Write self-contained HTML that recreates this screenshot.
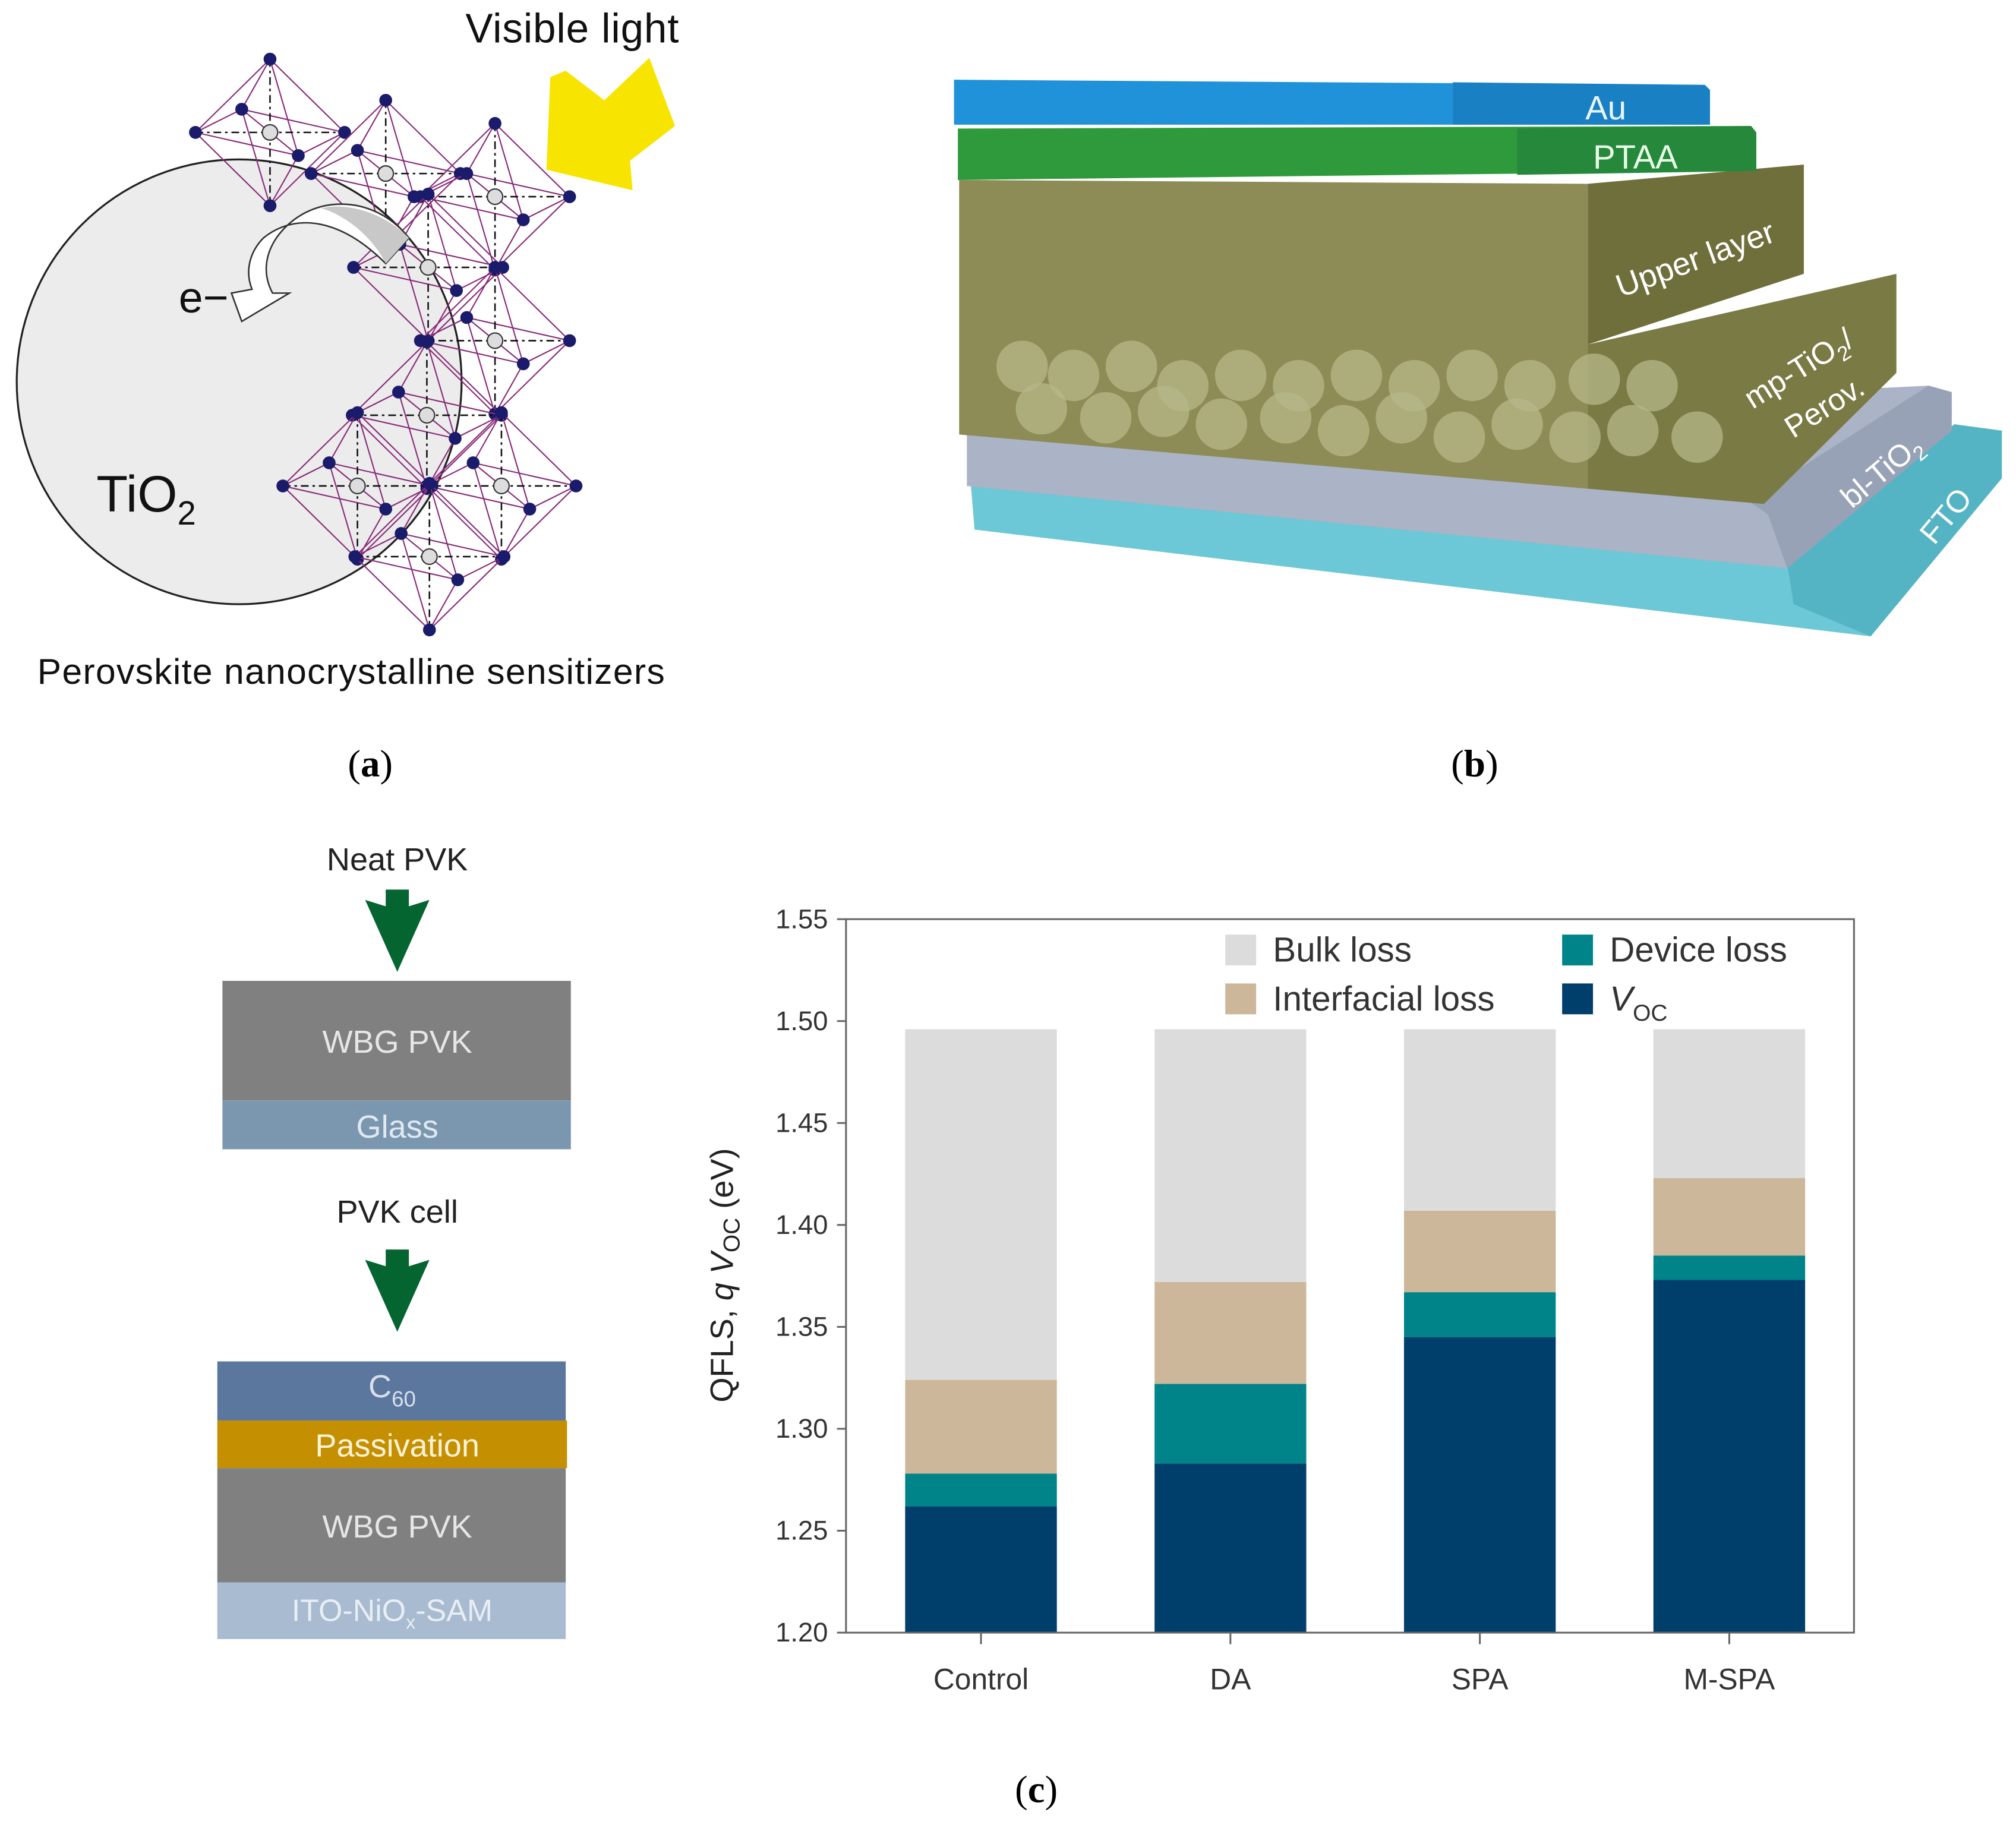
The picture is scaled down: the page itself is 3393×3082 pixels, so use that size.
<!DOCTYPE html>
<html><head><meta charset="utf-8"><style>
html,body{margin:0;padding:0;background:#fff;}
svg{display:block;}
text{font-family:"Liberation Sans",sans-serif;}
</style></head><body>
<svg id="fig" width="3393" height="3082" viewBox="0 0 1568 1424.3" xmlns="http://www.w3.org/2000/svg">
<!-- Panel a -->
<g>
  <circle cx="186" cy="297" r="173" fill="#ececec" stroke="#222" stroke-width="1.5"/>
  <g id="lattice"></g>
  <path d="M318,185 C290,150 240,150 215,185 C205,200 205,215 212,228 L225,228 L188,250 L180,228 L196,225 C190,210 195,195 205,185 C230,165 265,170 300,205 Z" fill="#fff" stroke="#333" stroke-width="1.2"/>
  <path d="M318,185 C295,162 265,158 250,162 C270,168 290,185 300,205 Z" fill="#c8c8c8"/>
  <text x="139" y="243" font-size="34" fill="#111">e−</text>
  <text x="75" y="398" font-size="40" fill="#111">TiO<tspan font-size="26" dy="10">2</tspan></text>
  <polygon points="440,55 470,78 505,45 525,98 490,125 492,148 425,132 428,60" fill="#f7e400"/>
  <text x="362" y="33" font-size="32" textLength="166" fill="#111">Visible light</text>
  <text x="29" y="532" font-size="28" textLength="488" fill="#111">Perovskite nanocrystalline sensitizers</text>
  <text x="288" y="604" font-size="30" text-anchor="middle" style="font-family:'Liberation Serif',serif">(<tspan font-weight="bold">a</tspan>)</text>
</g>
<!-- Panel b -->
<g>
  <polygon points="755,376 1390,438 1520,330 1557,335 1557,372 1455,495 758,412" fill="#6cc8d6"/>
  <polygon points="1390,438 1520,330 1557,335 1557,372 1455,495 1395,470" fill="#55b4c4"/>
  <polygon points="752,336 1500,300 1518,305 1518,335 1390,442 752,378" fill="#aab4c6"/>
  <polygon points="1360,390 1500,300 1518,305 1518,335 1390,442 1375,400" fill="#97a2b6"/>
  <polygon points="746,140 1235,143 1235,268 1372,268 1372,392 746,338" fill="#8e8c56"/>
  <polygon points="1235,143 1403,128 1403,213 1235,268" fill="#6f6f3c"/>
  <polygon points="1235,268 1475,213 1475,290 1372,392 1235,380" fill="#7a7a44"/>
  <g id="spheres"></g>
  <polygon points="745,100 1362,98 1366,103 1366,133 745,140" fill="#2f9a3c"/>
  <polygon points="1180,100 1362,98 1366,103 1366,133 1180,136" fill="#26883a"/>
  <polygon points="742,62 1326,66 1330,70 1330,97 742,97" fill="#1f92da"/>
  <polygon points="1130,64 1326,66 1330,70 1330,97 1130,97" fill="#1a80c4"/>
  <text x="1249" y="93" font-size="26" fill="#eaf6ff" text-anchor="middle">Au</text>
  <text x="1272" y="131" font-size="26" fill="#eaffea" text-anchor="middle">PTAA</text>
  <text x="1318" y="210" font-size="25" fill="#fff" text-anchor="middle" transform="rotate(-20 1318 200)">Upper layer</text>
  <text x="1398" y="295" font-size="24" fill="#fff" text-anchor="middle" transform="rotate(-32 1398 285)">mp-TiO<tspan font-size="16" dy="6">2</tspan><tspan dy="-6">/</tspan></text>
  <text x="1418" y="325" font-size="24" fill="#fff" text-anchor="middle" transform="rotate(-32 1418 315)">Perov.</text>
  <text x="1462" y="375" font-size="24" fill="#fff" text-anchor="middle" transform="rotate(-40 1462 365)">bl-TiO<tspan font-size="16" dy="6">2</tspan></text>
  <text x="1512" y="410" font-size="24" fill="#fff" text-anchor="middle" transform="rotate(-50 1512 400)">FTO</text>
  <text x="1147" y="604" font-size="30" text-anchor="middle" style="font-family:'Liberation Serif',serif">(<tspan font-weight="bold">b</tspan>)</text>
</g>
<!-- Panel c left -->
<g>
  <text x="309" y="677" font-size="25" text-anchor="middle" fill="#222">Neat PVK</text>
  <polygon points="300,692 318,692 318,705 334,700 309,756 284,700 300,705" fill="#056530"/>
  <rect x="173" y="763" width="271" height="93" fill="#808080"/>
  <rect x="173" y="856" width="271" height="38" fill="#7b97b0"/>
  <text x="309" y="819" font-size="25" text-anchor="middle" fill="#e6e6e6">WBG PVK</text>
  <text x="309" y="885" font-size="25" text-anchor="middle" fill="#e0e8f0">Glass</text>
  <text x="309" y="951" font-size="25" text-anchor="middle" fill="#222">PVK cell</text>
  <polygon points="300,972 318,972 318,985 334,980 309,1036 284,980 300,985" fill="#056530"/>
  <rect x="169" y="1059" width="271" height="46" fill="#5b779e"/>
  <rect x="169" y="1105" width="272" height="37" fill="#c48f00"/>
  <rect x="169" y="1142" width="271" height="89" fill="#808080"/>
  <rect x="169" y="1231" width="271" height="44" fill="#a9bbd0"/>
  <text x="305" y="1087" font-size="25" text-anchor="middle" fill="#d8dfea">C<tspan font-size="17" dy="7">60</tspan></text>
  <text x="309" y="1133" font-size="25" text-anchor="middle" fill="#fff3d8">Passivation</text>
  <text x="309" y="1196" font-size="25" text-anchor="middle" fill="#e6e6e6">WBG PVK</text>
  <text x="305" y="1261" font-size="24" text-anchor="middle" fill="#e8eef5">ITO-NiO<tspan font-size="15" dy="6">x</tspan><tspan dy="-6">-SAM</tspan></text>
</g>
<!-- Chart -->
<g id="chart"></g>
<text x="806" y="1402" font-size="30" text-anchor="middle" style="font-family:'Liberation Serif',serif">(<tspan font-weight="bold">c</tspan>)</text>
</svg>
<script>
const categories = ["Control", "DA", "SPA", "M-SPA"];
const vocValues = [1.262, 1.283, 1.345, 1.373];
const deviceTop = [1.278, 1.322, 1.367, 1.385];
const interfacialTop = [1.324, 1.372, 1.407, 1.423];
const bulkTop = [1.496, 1.496, 1.496, 1.496];
const yTicks = [1.20, 1.25, 1.30, 1.35, 1.40, 1.45, 1.50, 1.55];
const yTickLabels = ["1.20", "1.25", "1.30", "1.35", "1.40", "1.45", "1.50", "1.55"];

const NS = "http://www.w3.org/2000/svg";
function mk(parent, tag, attrs, txt) {
  const e = document.createElementNS(NS, tag);
  for (const k in attrs) e.setAttribute(k, attrs[k]);
  if (txt !== undefined) e.textContent = txt;
  parent.appendChild(e);
  return e;
}
const L = 658, R = 1442, T = 715, B = 1270;
const yMin = 1.20, yMax = 1.55;
function yScale(v) { return B - (v - yMin) / (yMax - yMin) * (B - T); }
function xCenter(i) { return 763 + i * 194; }
const barW = 118;
const chart = document.getElementById("chart");

const series = [
  { lo: () => yMin, hi: vocValues, color: "#003f6b", name: "voc" },
  { lo: vocValues, hi: deviceTop, color: "#00848a", name: "device-loss" },
  { lo: deviceTop, hi: interfacialTop, color: "#cdb79a", name: "interfacial-loss" },
  { lo: interfacialTop, hi: bulkTop, color: "#dcdcdc", name: "bulk-loss" }
];
series.forEach(s => {
  categories.forEach((c, i) => {
    const lo = typeof s.lo === "function" ? s.lo() : s.lo[i];
    const hi = s.hi[i];
    const r = mk(chart, "rect", { x: xCenter(i) - barW / 2, y: yScale(hi), width: barW, height: yScale(lo) - yScale(hi), fill: s.color });
    
    
  });
});
const frame = mk(chart, "rect", { x: L, y: T, width: R - L, height: B - T, fill: "none", stroke: "#666", "stroke-width": 1.4 });


yTicks.forEach((v, i) => {
  mk(chart, "line", { x1: L - 7, x2: L, y1: yScale(v), y2: yScale(v), stroke: "#666", "stroke-width": 1.4 });
  const t = mk(chart, "text", { x: L - 14, y: yScale(v) + 7, "font-size": 21, "text-anchor": "end", fill: "#333" }, yTickLabels[i]);
  
  
});
categories.forEach((c, i) => {
  mk(chart, "line", { x1: xCenter(i), x2: xCenter(i), y1: B, y2: B + 9, stroke: "#666", "stroke-width": 1.4 });
  const t = mk(chart, "text", { x: xCenter(i), y: 1314, "font-size": 23, "text-anchor": "middle", fill: "#333" }, c);
  
  
});
const yt = mk(chart, "text", { x: 0, y: 0, "font-size": 25, "text-anchor": "middle", fill: "#222", transform: "translate(570,992) rotate(-90)" });


yt.innerHTML = 'QFLS, <tspan font-style="italic">q</tspan> <tspan font-style="italic">V</tspan><tspan font-size="18" dy="5">OC</tspan><tspan dy="-5"> (eV)</tspan>';
const legend = [
  { x: 953, y: 727, color: "#dcdcdc", label: "Bulk loss" },
  { x: 953, y: 765, color: "#cdb79a", label: "Interfacial loss" },
  { x: 1215, y: 727, color: "#00848a", label: "Device loss" },
  { x: 1215, y: 765, color: "#003f6b", label: "V" }
];
legend.forEach(l => {
  const g = mk(chart, "g", {});
  
  
  mk(g, "rect", { x: l.x, y: l.y, width: 24, height: 24, fill: l.color });
  const t = mk(g, "text", { x: l.x + 37, y: l.y + 21, "font-size": 27, fill: "#333" });
  if (l.label === "V") t.innerHTML = '<tspan font-style="italic">V</tspan><tspan font-size="18" dy="8">OC</tspan>';
  else t.textContent = l.label;
});

// Panel a lattice
const lat = document.getElementById("lattice");
const centers = [[210,103],[300,135],[385,153],[333,208],[385,265],[332,323],[390,378],[278,378],[334,433]];
centers.forEach(([cx, cy]) => {
  const v = [[cx-58,cy],[cx+58,cy],[cx,cy-57],[cx,cy+57],[cx-22,cy-18],[cx+22,cy+18]];
  for (let a = 0; a < v.length; a++) for (let b = a + 1; b < v.length; b++) {
    if ((a === 0 && b === 1) || (a === 2 && b === 3)) continue;
    mk(lat, "line", { x1: v[a][0], y1: v[a][1], x2: v[b][0], y2: v[b][1], stroke: "#8a2c7a", "stroke-width": 1 });
  }
  mk(lat, "line", { x1: v[0][0], y1: cy, x2: v[1][0], y2: cy, stroke: "#111", "stroke-width": 1.2, "stroke-dasharray": "6 3 2 3" });
  mk(lat, "line", { x1: cx, y1: v[2][1], x2: cx, y2: v[3][1], stroke: "#111", "stroke-width": 1.2, "stroke-dasharray": "6 3 2 3" });
  v.forEach(p => mk(lat, "circle", { cx: p[0], cy: p[1], r: 5, fill: "#1b1b6b" }));
  mk(lat, "circle", { cx: cx, cy: cy, r: 6, fill: "#ddd", stroke: "#333", "stroke-width": 1 });
});

// Panel b spheres
const sp = document.getElementById("spheres");
const sph = [[795,285],[835,292],[880,285],[920,300],[965,292],[1010,300],[1055,292],[1100,300],[1145,292],[1190,300],[1240,295],[1285,300],
  [810,318],[860,325],[905,320],[950,330],[1000,325],[1045,335],[1090,325],[1135,340],[1180,330],[1225,340],[1270,335],[1320,340]];
sph.forEach(([x, y]) => mk(sp, "circle", { cx: x, cy: y, r: 20, fill: "#b7b88a", opacity: 0.75 }));
</script>
</body></html>
